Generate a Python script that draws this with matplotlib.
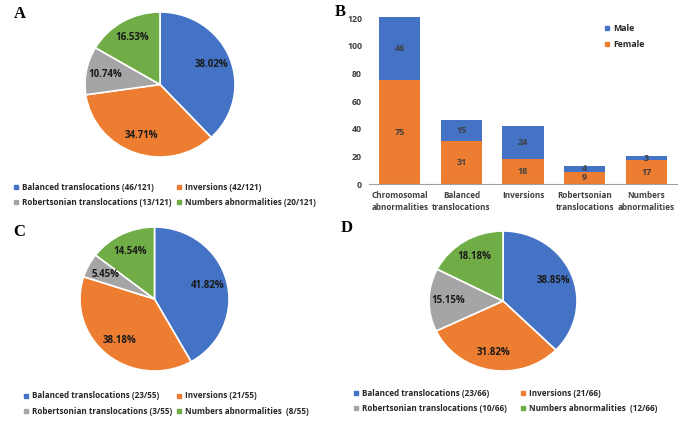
import matplotlib
matplotlib.use("Agg")
import matplotlib.pyplot as plt
from matplotlib.lines import Line2D

plt.rcParams['font.family'] = ['Open Sans', 'DejaVu Sans']

W, H = 685, 423
colors = ['#4472C4', '#ED7D31', '#A5A5A5', '#70AD47']

# Panel A
a_labels = ['Balanced translocations (46/121)', 'Inversions (42/121)',
            'Robertsonian translocations (13/121)', 'Numbers abnormalities (20/121)']
a_pct = [38.02, 34.71, 10.74, 16.53]

# Panel B
b_categories = ['Chromosomal\nabnormalities', 'Balanced\ntranslocations', 'Inversions',
                'Robertsonian\ntranslocations', 'Numbers\nabnormalities']
b_female = [75, 31, 18, 9, 17]
b_male = [46, 15, 24, 4, 3]
b_yticks = [0, 20, 40, 60, 80, 100, 120]

# Panel C
c_labels = ['Balanced translocations (23/55)', 'Inversions (21/55)',
            'Robertsonian translocations (3/55)', 'Numbers abnormalities  (8/55)']
c_pct = [41.82, 38.18, 5.45, 14.54]

# Panel D
d_labels = ['Balanced translocations (23/66)', 'Inversions (21/66)',
            'Robertsonian translocations (10/66)', 'Numbers abnormalities  (12/66)']
d_pct = [38.85, 31.82, 15.15, 18.18]

FS = 6.3
FSL = 5.9
fig = plt.figure(figsize=(W / 100, H / 100), dpi=100)
fig.patch.set_facecolor('white')


def px_axes(cx, cy, rx, ry):
    return fig.add_axes([(cx - rx) / W, 1 - (cy + ry) / H, 2 * rx / W, 2 * ry / H])


def draw_pie(cx, cy, rx, ry, values, labels, leg_x, leg_y, colspace, letter, lx, ly):
    ax = px_axes(cx, cy, rx, ry)
    wedges, texts, autotexts = ax.pie(
        values, colors=colors, startangle=90, counterclock=False, radius=1,
        autopct=lambda p: '', pctdistance=0.74,
        wedgeprops=dict(edgecolor='white', linewidth=1.2))
    for at, v in zip(autotexts, values):
        at.set_text(f'{v:.2f}%')
        at.set_fontsize(7)
        at.set_fontweight('bold')
        at.set_color('#1a1a1a')
    ax.set_xlim(-1, 1)
    ax.set_ylim(-1, 1)
    ax.set_aspect('auto')
    ax.axis('off')
    handles = [Line2D([], [], marker='s', linestyle='none', markersize=3.0,
                      markerfacecolor=c, markeredgecolor=c) for c in colors]
    order = [0, 2, 1, 3]
    fig.legend([handles[i] for i in order], [labels[i] for i in order], ncol=2,
               loc='center left',
               bbox_to_anchor=(leg_x / W, 1 - leg_y / H), frameon=False,
               prop=dict(size=FSL, weight='bold'), borderpad=0,
               handlelength=0.6, handletextpad=0.45, columnspacing=colspace,
               labelspacing=0.75, labelcolor='#262626')
    fig.text(lx / W, 1 - ly / H, letter, family='Liberation Serif',
             fontweight='bold', fontsize=12, ha='center', va='center')


draw_pie(160, 84.5, 75, 72.5, a_pct, a_labels, 9, 195, 0.6, 'A', 20, 14)
draw_pie(154.5, 299, 74.5, 72, c_pct, c_labels, 19, 403.5, 0.6, 'C', 19, 232)
draw_pie(503, 301, 74, 70, d_pct, d_labels, 349, 401, 1.7, 'D', 347, 228)

# Panel B bar chart
axb = fig.add_axes([369 / W, 1 - 184 / H, (677 - 369) / W, (184 - 15.3) / H])
x = list(range(len(b_categories)))
bars_f = axb.bar(x, b_female, width=0.67, color=colors[1], label='Female')
bars_m = axb.bar(x, b_male, width=0.67, bottom=b_female, color=colors[0], label='Male')
axb.bar_label(bars_f, labels=[str(v) for v in b_female], label_type='center',
              fontsize=6.5, fontweight='bold', color='#404040')
axb.bar_label(bars_m, labels=[str(v) for v in b_male], label_type='center',
              fontsize=6.5, fontweight='bold', color='#404040')
axb.set_xlim(-0.5, len(b_categories) - 0.5)
axb.set_ylim(0, 122)
axb.set_yticks(b_yticks)
axb.set_xticks(x)
axb.set_xticklabels(b_categories, fontsize=5.9, fontweight='bold', color='#404040',
                    linespacing=1.5)
axb.tick_params(axis='y', labelsize=FS, length=0, colors='#404040', pad=5)
axb.tick_params(axis='x', length=0, pad=5)
for lab in axb.get_yticklabels():
    lab.set_fontweight('bold')
for s in ['top', 'right', 'left']:
    axb.spines[s].set_visible(False)
axb.spines['bottom'].set_color('#a0a0a0')
axb.spines['bottom'].set_linewidth(0.8)
hm = [Line2D([], [], marker='s', linestyle='none', markersize=3.5,
             markerfacecolor=c, markeredgecolor=c) for c in [colors[0], colors[1]]]
axb.legend(hm, ['Male', 'Female'], loc='upper left', bbox_to_anchor=(0.75, 0.975),
           frameon=False, prop=dict(size=FS, weight='bold'), labelcolor='#262626',
           handlelength=0.6, handletextpad=0.4, labelspacing=0.8, borderpad=0)
fig.text(340 / W, 1 - 12 / H, 'B', family='Liberation Serif', fontweight='bold',
         fontsize=12, ha='center', va='center')

fig.savefig('out.png', dpi=100, facecolor='white')
